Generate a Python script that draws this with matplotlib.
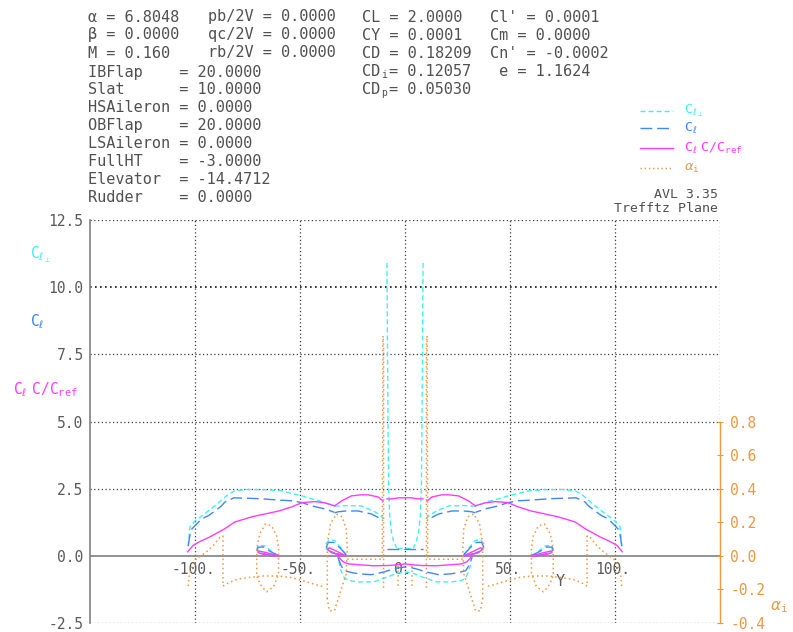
import matplotlib
matplotlib.use("Agg")
import matplotlib.pyplot as plt
from matplotlib.lines import Line2D

plt.rcParams['axes.unicode_minus'] = False
plt.rcParams['mathtext.fontset'] = 'dejavusans'

# ---------------- colours / styles ----------------
CYAN = '#3ef2f2'
BLUE = '#3f86ff'
MAGENTA = '#ff3cff'
ORANGE = '#ee9840'
GRID = '#3a3a3a'
AXGREY = '#808080'
TXT = '#505050'
MONO = 'DejaVu Sans Mono'

DASH_CLPERP = (0, (3.6, 2.2))
DASH_CL = (0, (8.5, 3.5))
DOT = (0, (1, 2))

# ---------------- run summary ----------------
alpha_txt = 'α = 6.8048'
beta_txt = 'β = 0.0000'
mach_txt = 'M = 0.160'
rates = ['pb/2V = 0.0000', 'qc/2V = 0.0000', 'rb/2V = 0.0000']
forces = ['CL = 2.0000', 'CY = 0.0001', 'CD = 0.18209']
cdi_val = '0.12057'
cdp_val = '0.05030'
moments = ["Cl' = 0.0001", 'Cm = 0.0000', "Cn' = -0.0002", ' e = 1.1624']
controls = ['IBFlap', 'Slat', 'HSAileron', 'OBFlap', 'LSAileron', 'FullHT', 'Elevator', 'Rudder']
control_vals = ['20.0000', '10.0000', '0.0000', '20.0000', '0.0000', '-3.0000', '-14.4712', '0.0000']

# ---------------- spanwise loadings ----------------
# main wing, outer panels
wo_port_clperp_y = [-103.2, -102.8, -102.4, -100.0, -96.7, -93.5, -90.5, -87.0, -83.9, -81.0, -75.0, -66.0, -58.8, -54.0, -49.0, -44.5, -40.0, -36.5, -34.0]
wo_port_clperp = [0.35, 0.75, 1.08, 1.30, 1.49, 1.68, 1.86, 2.10, 2.30, 2.42, 2.47, 2.46, 2.42, 2.32, 2.23, 2.12, 2.03, 1.93, 1.88]
wo_stbd_clperp_y = [103.2, 102.8, 102.4, 100.0, 96.7, 93.5, 90.5, 87.0, 83.9, 81.0, 75.0, 66.0, 58.8, 54.0, 49.0, 44.5, 40.0, 36.5, 34.0]
wo_stbd_clperp = [0.35, 0.75, 1.08, 1.30, 1.49, 1.68, 1.86, 2.10, 2.30, 2.42, 2.47, 2.46, 2.42, 2.32, 2.23, 2.12, 2.03, 1.93, 1.88]

wo_port_cl_y = [-103.2, -102.6, -101.5, -99.0, -96.7, -93.5, -90.5, -87.5, -85.8, -81.5, -70.0, -58.8, -54.0, -49.0, -44.5, -38.4, -33.6]
wo_port_cl = [0.37, 0.70, 1.00, 1.20, 1.38, 1.50, 1.67, 1.85, 2.00, 2.16, 2.13, 2.07, 2.05, 1.98, 1.86, 1.75, 1.62]
wo_stbd_cl_y = [103.2, 102.6, 101.5, 99.0, 96.7, 93.5, 90.5, 87.5, 85.8, 81.5, 70.0, 58.8, 54.0, 49.0, 44.5, 38.4, 33.6]
wo_stbd_cl = [0.37, 0.70, 1.00, 1.20, 1.38, 1.50, 1.67, 1.85, 2.00, 2.16, 2.13, 2.07, 2.05, 1.98, 1.86, 1.75, 1.62]

wo_port_clc_y = [-103.5, -101.0, -98.0, -93.0, -86.0, -81.0, -73.0, -66.0, -60.0, -54.0, -49.0, -43.0, -38.0, -33.5]
wo_port_clc = [0.15, 0.38, 0.52, 0.70, 1.00, 1.26, 1.45, 1.57, 1.67, 1.82, 1.98, 2.02, 1.97, 1.86]
wo_stbd_clc_y = [103.5, 101.0, 98.0, 93.0, 86.0, 81.0, 73.0, 66.0, 60.0, 54.0, 49.0, 43.0, 38.0, 33.5]
wo_stbd_clc = [0.15, 0.38, 0.52, 0.70, 1.00, 1.26, 1.45, 1.57, 1.67, 1.82, 1.98, 2.02, 1.97, 1.86]

# main wing, inner panels
wi_port_clc_y = [-33.5, -30.3, -25.6, -21.0, -17.5, -12.8, -10.4]
wi_port_clc = [1.86, 2.04, 2.23, 2.27, 2.27, 2.19, 2.04]
wi_stbd_clc_y = [33.5, 30.3, 25.6, 21.0, 17.5, 12.8, 10.4]
wi_stbd_clc = [1.86, 2.04, 2.23, 2.27, 2.27, 2.19, 2.04]
wi_port_cl_y = [-33.5, -31.8, -28.0, -22.3, -16.1, -12.3, -10.4]
wi_port_cl = [1.60, 1.64, 1.67, 1.67, 1.56, 1.41, 1.30]
wi_stbd_cl_y = [33.5, 31.8, 28.0, 22.3, 16.1, 12.3, 10.4]
wi_stbd_cl = [1.60, 1.64, 1.67, 1.67, 1.56, 1.41, 1.30]
wi_port_clperp_y = [-33.5, -28.0, -21.0, -15.0, -11.5, -10.2]
wi_port_clperp = [1.85, 1.87, 1.86, 1.67, 1.50, 1.38]
wi_stbd_clperp_y = [33.5, 28.0, 21.0, 15.0, 11.5, 10.2]
wi_stbd_clperp = [1.85, 1.87, 1.86, 1.67, 1.50, 1.38]

# centre strips
sp_port_clperp_y = [-8.6, -8.4, -8.1, -7.8, -7.3, -6.5, -5.3, -4.0]
sp_port_clperp = [10.9, 8.5, 5.1, 2.6, 1.5, 0.9, 0.5, 0.3]
sp_stbd_clperp_y = [8.6, 8.4, 8.1, 7.8, 7.3, 6.5, 5.3, 4.0]
sp_stbd_clperp = [10.9, 8.5, 5.1, 2.6, 1.5, 0.9, 0.5, 0.3]
ctr_cl_y = [-8.6, 8.6]
ctr_cl = [0.26, 0.26]
ctr_clperp_y = [-4.0, 4.0]
ctr_clperp = [0.29, 0.29]
ctr_clc_y = [-8.6, -6.0, -3.0, 0.0, 3.0, 6.0, 8.6]
ctr_clc = [2.12, 2.12, 2.16, 2.16, 2.16, 2.12, 2.12]

# horizontal tail
ht_clc_y = [-32.0, -31.0, -29.5, -27.0, -22.0, -15.0, -8.0, -3.0, 0.0, 3.0, 8.0, 15.0, 22.0, 27.0, 29.5, 31.0, 32.0]
ht_clc = [0.07, -0.10, -0.22, -0.30, -0.33, -0.37, -0.36, -0.33, -0.30, -0.33, -0.36, -0.37, -0.33, -0.30, -0.22, -0.10, 0.07]
ht_cl_y = [-32.0, -30.5, -29.0, -25.0, -22.0, -16.0, -10.0, -6.0, -3.0, 0.0, 3.0, 6.0, 10.0, 16.0, 22.0, 25.0, 29.0, 30.5, 32.0]
ht_cl = [-0.05, -0.35, -0.55, -0.63, -0.67, -0.70, -0.60, -0.50, -0.44, -0.42, -0.44, -0.50, -0.60, -0.70, -0.67, -0.63, -0.55, -0.35, -0.05]
ht_clperp_y = [-31.5, -30.5, -29.0, -27.0, -22.0, -15.0, -8.0, -4.0, 0.0, 4.0, 8.0, 15.0, 22.0, 27.0, 29.0, 30.5, 31.5]
ht_clperp = [-0.20, -0.55, -0.80, -0.92, -0.97, -0.97, -0.78, -0.65, -0.60, -0.65, -0.78, -0.97, -0.97, -0.92, -0.80, -0.55, -0.20]

# inboard nacelle rings
n1_port_clperp_y = [-28.0, -30.5, -33.5, -36.0, -37.6, -37.4, -35.0, -31.0, -28.0]
n1_port_clperp = [0.04, 0.30, 0.57, 0.60, 0.45, 0.25, 0.12, 0.04, 0.02]
n1_stbd_clperp_y = [28.0, 30.5, 33.5, 36.0, 37.6, 37.4, 35.0, 31.0, 28.0]
n1_stbd_clperp = [0.04, 0.30, 0.57, 0.60, 0.45, 0.25, 0.12, 0.04, 0.02]
n1_port_cl_y = [-28.0, -31.0, -34.0, -36.5, -37.4, -36.5, -33.0, -28.0]
n1_port_cl = [0.04, 0.30, 0.50, 0.50, 0.35, 0.20, 0.08, 0.02]
n1_stbd_cl_y = [28.0, 31.0, 34.0, 36.5, 37.4, 36.5, 33.0, 28.0]
n1_stbd_cl = [0.04, 0.30, 0.50, 0.50, 0.35, 0.20, 0.08, 0.02]
n1_port_clc_y = [-28.0, -32.0, -36.0, -37.0, -35.0, -31.0, -28.0]
n1_port_clc = [0.00, 0.15, 0.30, 0.25, 0.12, 0.03, 0.00]
n1_stbd_clc_y = [28.0, 32.0, 36.0, 37.0, 35.0, 31.0, 28.0]
n1_stbd_clc = [0.00, 0.15, 0.30, 0.25, 0.12, 0.03, 0.00]

# outboard nacelle rings
n2_port_clperp_y = [-60.2, -64.0, -67.0, -70.0, -70.5, -69.0, -65.0, -60.2]
n2_port_clperp = [0.00, 0.20, 0.38, 0.38, 0.25, 0.12, 0.03, 0.00]
n2_stbd_clperp_y = [60.2, 64.0, 67.0, 70.0, 70.5, 69.0, 65.0, 60.2]
n2_stbd_clperp = [0.00, 0.20, 0.38, 0.38, 0.25, 0.12, 0.03, 0.00]
n2_port_cl_y = [-60.2, -64.5, -67.5, -70.0, -70.4, -68.5, -64.0, -60.2]
n2_port_cl = [0.00, 0.18, 0.33, 0.32, 0.20, 0.10, 0.02, 0.00]
n2_stbd_cl_y = [60.2, 64.5, 67.5, 70.0, 70.4, 68.5, 64.0, 60.2]
n2_stbd_cl = [0.00, 0.18, 0.33, 0.32, 0.20, 0.10, 0.02, 0.00]
n2_port_clc_y = [-60.2, -65.0, -69.5, -70.0, -67.0, -60.2]
n2_port_clc = [0.00, 0.10, 0.18, 0.12, 0.04, -0.01]
n2_stbd_clc_y = [60.2, 65.0, 69.5, 70.0, 67.0, 60.2]
n2_stbd_clc = [0.00, 0.10, 0.18, 0.12, 0.04, -0.01]

# induced angle (right-hand scale)
ai_tip_port_y = [-103.2, -102.8, -101.5, -99.5, -97.0, -94.0, -91.0, -88.2, -86.7]
ai_tip_port = [-0.18, -0.12, -0.06, -0.02, 0.00, 0.03, 0.065, 0.11, 0.12]
ai_tip_stbd_y = [103.2, 102.8, 101.5, 99.5, 97.0, 94.0, 91.0, 88.2, 86.7]
ai_tip_stbd = [-0.18, -0.12, -0.06, -0.02, 0.00, 0.03, 0.065, 0.11, 0.12]
ai_mid_port_y = [-86.7, -86.7, -84.0, -80.0, -75.0, -68.0, -60.0, -54.0, -48.0, -43.0, -40.0, -38.4]
ai_mid_port = [0.12, -0.18, -0.16, -0.14, -0.13, -0.12, -0.12, -0.13, -0.15, -0.17, -0.18, -0.18]
ai_mid_stbd_y = [86.7, 86.7, 84.0, 80.0, 75.0, 68.0, 60.0, 54.0, 48.0, 43.0, 40.0, 38.4]
ai_mid_stbd = [0.12, -0.18, -0.16, -0.14, -0.13, -0.12, -0.12, -0.13, -0.15, -0.17, -0.18, -0.18]
ai_n1_port_y = [-37.0, -37.0, -35.5, -32.7, -29.9, -28.0, -27.5, -28.0, -30.3, -33.6, -36.0, -37.0]
ai_n1_port = [-0.256, 0.07, 0.19, 0.25, 0.232, 0.16, 0.042, -0.107, -0.196, -0.327, -0.327, -0.256]
ai_n1_stbd_y = [37.0, 37.0, 35.5, 32.7, 29.9, 28.0, 27.5, 28.0, 30.3, 33.6, 36.0, 37.0]
ai_n1_stbd = [-0.256, 0.07, 0.19, 0.25, 0.232, 0.16, 0.042, -0.107, -0.196, -0.327, -0.327, -0.256]
ai_n2_port_y = [-70.6, -70.6, -69.2, -66.4, -63.5, -61.1, -60.2, -60.2, -62.6, -65.9, -68.2, -70.1, -70.6]
ai_n2_port = [-0.107, 0.042, 0.131, 0.19, 0.178, 0.119, 0.042, -0.107, -0.184, -0.214, -0.184, -0.137, -0.107]
ai_n2_stbd_y = [70.6, 70.6, 69.2, 66.4, 63.5, 61.1, 60.2, 60.2, 62.6, 65.9, 68.2, 70.1, 70.6]
ai_n2_stbd = [-0.107, 0.042, 0.131, 0.19, 0.178, 0.119, 0.042, -0.107, -0.184, -0.214, -0.184, -0.137, -0.107]
ai_in_port_y = [-27.5, -22.0, -15.0, -10.8, -10.5, -10.2, -10.2]
ai_in_port = [-0.02, -0.02, -0.02, -0.02, 1.31, 1.25, -0.20]
ai_in_stbd_y = [27.5, 22.0, 15.0, 10.8, 10.5, 10.2, 10.2]
ai_in_stbd = [-0.02, -0.02, -0.02, -0.02, 1.31, 1.25, -0.20]
ai_ctr_port_y = [-3.5, -3.5]
ai_ctr_port = [-0.06, -0.20]
ai_ctr_stbd_y = [3.5, 3.5]
ai_ctr_stbd = [-0.06, -0.20]

# axis ticks
cl_ticks = [-2.5, 0.0, 2.5, 5.0, 7.5, 10.0, 12.5]
ai_ticks = [-0.4, -0.2, 0.0, 0.2, 0.4, 0.6, 0.8]
y_ticks = [-100, -50, 0, 50, 100]
y_tick_labels = ['-100.', '-50.', '0.', '50.', '100.']

# ---------------- figure ----------------
W, H = 793, 632
fig = plt.figure(figsize=(W / 100, H / 100), dpi=100)
fig.patch.set_facecolor('white')


def fx(px):
    return px / W


def fy(py):
    return 1 - py / H


ax = fig.add_axes([fx(90), fy(623), fx(720) - fx(90), fy(220) - fy(623)])
ax.set_xlim(-150, 150)
ax.set_ylim(-2.5, 12.5)
ax.set_facecolor('none')

for s in ['top', 'right', 'bottom']:
    ax.spines[s].set_visible(False)
ax.spines['left'].set_color(AXGREY)
ax.spines['left'].set_linewidth(1.2)

ax.set_yticks(cl_ticks)
ax.set_yticklabels(['%.1f' % v for v in cl_ticks], family=MONO, fontsize=10.5, color='#5a5a5a')
ax.tick_params(axis='y', length=0, pad=5)
ax.set_xticks(y_ticks)
ax.set_xticklabels([])
ax.tick_params(axis='x', length=0)

# grid
for v in cl_ticks:
    if v == 0.0:
        continue
    ax.axhline(v, color='#111111' if v == 10.0 else GRID, lw=1.2 if v == 10.0 else 0.9, ls=DOT, zorder=1)
for v in y_ticks:
    ax.axvline(v, color=GRID, lw=0.9, ls=DOT, zorder=1)
ax.vlines(150, 5.0, 12.5, color=GRID, lw=0.9, ls=DOT, zorder=1)
ax.axhline(0.0, color=AXGREY, lw=1.2, zorder=1)

for v, lab in zip(y_ticks, y_tick_labels):
    ax.annotate(lab, (v, 0.0), xytext=(-1.5, -4.5), textcoords='offset points',
                ha='center', va='top', family=MONO, fontsize=10.5, color='#5a5a5a')
ax.text(74, -0.97, 'Y', ha='center', va='center', family=MONO, fontsize=11, color='#5a5a5a')


def draw(yv, vals, color, ls, lw=1.0, axis=None):
    (axis or ax).plot(yv, vals, color=color, ls=ls, lw=lw, zorder=3)


# c_l perpendicular
for yy, vv in [(wo_port_clperp_y, wo_port_clperp), (wo_stbd_clperp_y, wo_stbd_clperp),
               (wi_port_clperp_y, wi_port_clperp), (wi_stbd_clperp_y, wi_stbd_clperp),
               (sp_port_clperp_y, sp_port_clperp), (sp_stbd_clperp_y, sp_stbd_clperp),
               (ctr_clperp_y, ctr_clperp), (ht_clperp_y, ht_clperp),
               (n1_port_clperp_y, n1_port_clperp), (n1_stbd_clperp_y, n1_stbd_clperp),
               (n2_port_clperp_y, n2_port_clperp), (n2_stbd_clperp_y, n2_stbd_clperp)]:
    draw(yy, vv, CYAN, DASH_CLPERP)

# c_l
for yy, vv in [(wo_port_cl_y, wo_port_cl), (wo_stbd_cl_y, wo_stbd_cl),
               (wi_port_cl_y, wi_port_cl), (wi_stbd_cl_y, wi_stbd_cl),
               (ctr_cl_y, ctr_cl), (ht_cl_y, ht_cl),
               (n1_port_cl_y, n1_port_cl), (n1_stbd_cl_y, n1_stbd_cl),
               (n2_port_cl_y, n2_port_cl), (n2_stbd_cl_y, n2_stbd_cl)]:
    draw(yy, vv, BLUE, DASH_CL)

# c_l c / c_ref
for yy, vv in [(wo_port_clc_y, wo_port_clc), (wo_stbd_clc_y, wo_stbd_clc),
               (wi_port_clc_y, wi_port_clc), (wi_stbd_clc_y, wi_stbd_clc),
               (ctr_clc_y, ctr_clc), (ht_clc_y, ht_clc),
               (n1_port_clc_y, n1_port_clc), (n1_stbd_clc_y, n1_stbd_clc),
               (n2_port_clc_y, n2_port_clc), (n2_stbd_clc_y, n2_stbd_clc)]:
    draw(yy, vv, MAGENTA, '-')

# induced angle on its own scale
ax2 = ax.twinx()
ax2.set_ylim(-0.4, 2.0)
for s in ['top', 'left', 'bottom']:
    ax2.spines[s].set_visible(False)
ax2.spines['right'].set_bounds(-0.4, 0.8)
ax2.spines['right'].set_color(ORANGE)
ax2.spines['right'].set_linewidth(1.0)
ax2.set_yticks(ai_ticks)
ax2.set_yticklabels(['%.1f' % v for v in ai_ticks], family=MONO, fontsize=10.5, color=ORANGE)
ax2.tick_params(axis='y', colors=ORANGE, direction='inout', length=5, width=0.8, pad=5)

for yy, vv in [(ai_tip_port_y, ai_tip_port), (ai_tip_stbd_y, ai_tip_stbd),
               (ai_mid_port_y, ai_mid_port), (ai_mid_stbd_y, ai_mid_stbd),
               (ai_n1_port_y, ai_n1_port), (ai_n1_stbd_y, ai_n1_stbd),
               (ai_n2_port_y, ai_n2_port), (ai_n2_stbd_y, ai_n2_stbd),
               (ai_in_port_y, ai_in_port), (ai_in_stbd_y, ai_in_stbd),
               (ai_ctr_port_y, ai_ctr_port), (ai_ctr_stbd_y, ai_ctr_stbd)]:
    draw(yy, vv, ORANGE, DOT, lw=1.1, axis=ax2)

# axis titles (monospaced glyphs, like the rest of the annotation)
LBL_PERP = r'$\mathtt{C}_{\ell_\perp}$'
LBL_CL = r'$\mathtt{C}_{\ell}$'
LBL_CLC = r'$\mathtt{C}_{\ell}\ \mathtt{C/C}_{\mathtt{ref}}$'
LBL_AI = r'$\alpha_{\mathtt{i}}$'
fig.text(fx(30), fy(255), LBL_PERP, color=CYAN, fontsize=10.5, va='center')
fig.text(fx(30), fy(322), LBL_CL, color=BLUE, fontsize=10.5, va='center')
fig.text(fx(13), fy(390), LBL_CLC, color=MAGENTA, fontsize=10.5, va='center')
fig.text(fx(770), fy(607), LBL_AI, color=ORANGE, fontsize=11, va='center')

# legend
leg_items = [(111, CYAN, DASH_CLPERP, LBL_PERP),
             (128, BLUE, DASH_CL, LBL_CL),
             (148, MAGENTA, '-', LBL_CLC),
             (168, ORANGE, DOT, LBL_AI)]
for py, col, ls, lab in leg_items:
    fig.add_artist(Line2D([fx(640), fx(673)], [fy(py), fy(py)], color=col, ls=ls, lw=1.0))
    fig.text(fx(684), fy(py), lab, color=col, fontsize=9.5, va='center')

fig.text(fx(718), fy(194), 'AVL 3.35', ha='right', va='center', family=MONO, fontsize=9.5, color=TXT)
fig.text(fx(718), fy(209), 'Trefftz Plane', ha='right', va='center', family=MONO, fontsize=9.5, color=TXT)

# run summary block
hdr = dict(family=MONO, fontsize=11, color=TXT, va='center')
for py, s in zip([17, 35, 53], [alpha_txt, beta_txt, mach_txt]):
    fig.text(fx(88), fy(py), s, **hdr)
for py, s in zip([17, 35, 53], rates):
    fig.text(fx(208), fy(py), s, **hdr)
for py, s in zip([17, 35, 53], forces):
    fig.text(fx(362), fy(py), s, **hdr)
for py, sub, val in [(71, 'i', cdi_val), (89, 'p', cdp_val)]:
    fig.text(fx(362), fy(py), 'CD', **hdr)
    fig.text(fx(381), fy(py + 4), sub, family=MONO, fontsize=7, color=TXT, va='center')
    fig.text(fx(389), fy(py), '= ' + val, **hdr)
for py, s in zip([17, 35, 53, 71], moments):
    fig.text(fx(490), fy(py), s, **hdr)
for py, name, val in zip([72, 90, 107.5, 125.5, 143.5, 161, 179, 197], controls, control_vals):
    fig.text(fx(88), fy(py), '%-9s = %s' % (name, val), **hdr)

fig.savefig('out.png', dpi=100)
